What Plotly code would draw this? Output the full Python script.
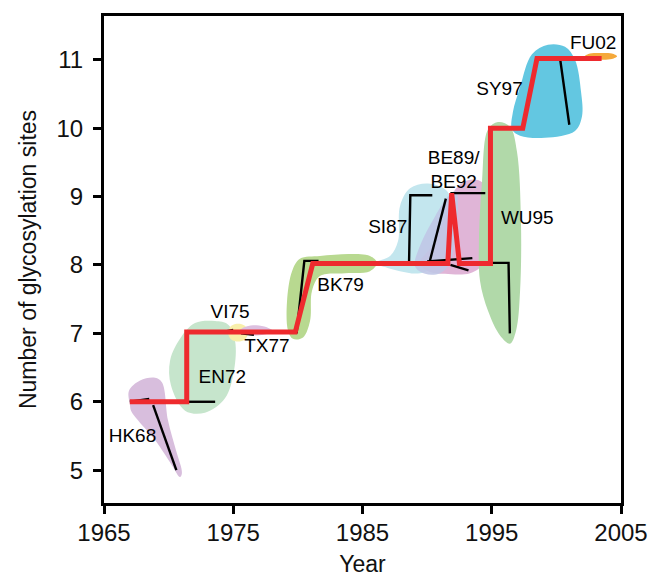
import plotly.graph_objects as go

# ---------------- data ----------------
# trunk (red step line): year, number of glycosylation sites
trunk_year = [1967.0, 1971.4, 1971.4, 1979.8, 1981.15, 1991.6, 1991.9, 1992.5, 1994.9, 1994.9, 1997.4, 1998.5, 2003.5]
trunk_sites = [6.0, 6.0, 7.02, 7.02, 8.02, 8.02, 9.05, 8.02, 8.02, 10.0, 10.0, 11.02, 11.02]

# side branches (black lines)
branch_names = ["HK68a", "HK68b", "EN72", "VI75", "TX77", "BK79", "SI87", "BE89", "BE92", "C8a", "C8b", "WU95", "SY97"]
branch_year = [
    [1967.0, 1968.5],
    [1968.8, 1970.6],
    [1971.4, 1973.6],
    [1974.4, 1975.0],
    [1975.6, 1976.6],
    [1979.9, 1980.5, 1981.6],
    [1988.6, 1988.7, 1990.4],
    [1990.2, 1991.45],
    [1991.8, 1994.5],
    [1990.0, 1993.5],
    [1991.8, 1993.2],
    [1994.9, 1996.3, 1996.4],
    [1999.0, 2000.3, 2001.0],
]
branch_sites = [
    [6.0, 6.04],
    [5.95, 5.0],
    [6.0, 6.0],
    [7.03, 7.05],
    [7.0, 6.98],
    [7.0, 8.06, 8.06],
    [8.02, 9.02, 9.02],
    [8.05, 8.97],
    [9.05, 9.05],
    [8.05, 8.1],
    [8.0, 7.92],
    [8.03, 8.03, 7.0],
    [11.0, 11.0, 10.05],
]

# cluster areas (outline points)
cluster_names = ["HK68", "EN72", "VI75", "TX77", "BK79", "SI87", "BE92", "BE89", "WU95", "SY97", "FU02"]
cluster_year = {
    "HK68": [1967.01, 1966.93, 1967.79, 1968.95, 1969.49, 1969.95, 1970.57, 1971.03, 1970.88, 1970.26, 1968.95, 1967.63, 1967.09],
    "EN72": [1970.88, 1972.04, 1973.59, 1974.59, 1975.14, 1975.06, 1974.36, 1972.81, 1971.27, 1970.18, 1970.11],
    "VI75": [1974.6, 1974.85, 1975.37, 1975.9, 1976.14, 1975.9, 1975.37, 1974.85],
    "TX77": [1975.5, 1976.0, 1976.8, 1977.6, 1978.1, 1977.6, 1976.8, 1976.0],
    "BK79": [1979.24, 1979.16, 1979.55, 1980.16, 1981.71, 1984.03, 1985.58, 1986.12, 1985.58, 1983.65, 1981.71, 1981.09, 1980.94, 1980.40, 1979.62],
    "SI87": [1985.97, 1987.13, 1987.75, 1987.90, 1988.68, 1990.07, 1991.54, 1991.92, 1991.62, 1991.00, 1989.45, 1987.90, 1986.74],
    "BE92": [1989.45, 1990.38, 1991.38, 1992.16, 1993.16, 1994.25, 1994.71, 1994.63, 1994.40, 1993.32, 1991.38, 1990.07],
    "BE89": [1989.06, 1989.45, 1990.61, 1991.62, 1992.23, 1992.39, 1992.16, 1991.77, 1991.00, 1989.84],
    "WU95": [1994.71, 1995.48, 1996.41, 1996.95, 1997.26, 1997.19, 1996.88, 1996.41, 1995.64, 1994.71, 1994.09, 1994.01, 1994.25],
    "SY97": [1996.57, 1996.64, 1997.19, 1998.11, 1999.35, 2000.67, 2001.44, 2001.91, 2001.98, 2001.44, 1999.12, 1997.19],
    "FU02": [2002.2, 2002.6, 2003.4, 2004.3, 2004.7, 2004.3, 2003.4, 2002.6],
}
cluster_sites = {
    "HK68": [5.95, 6.16, 6.31, 6.35, 6.28, 5.73, 5.29, 4.96, 4.90, 5.07, 5.44, 5.73, 5.87],
    "EN72": [6.92, 7.15, 7.18, 7.13, 6.89, 6.46, 6.05, 5.84, 5.87, 6.24, 6.60],
    "VI75": [7.01, 7.11, 7.14, 7.11, 7.01, 6.91, 6.88, 6.91],
    "TX77": [7.04, 7.10, 7.12, 7.09, 7.03, 6.99, 6.97, 6.98],
    "BK79": [7.04, 7.47, 7.91, 8.09, 8.13, 8.16, 8.13, 8.03, 7.91, 7.88, 7.84, 7.62, 7.18, 6.94, 6.92],
    "SI87": [8.03, 8.13, 8.35, 8.86, 9.12, 9.19, 9.08, 8.78, 8.35, 8.03, 7.88, 7.91, 7.97],
    "BE92": [8.03, 8.28, 8.71, 9.10, 9.24, 9.21, 8.93, 8.35, 8.03, 7.88, 7.87, 7.91],
    "BE89": [7.98, 8.28, 8.71, 9.00, 9.08, 8.86, 8.42, 8.03, 7.88, 7.87],
    "WU95": [9.98, 10.09, 10.02, 9.66, 8.64, 7.62, 7.04, 6.85, 6.97, 7.33, 7.77, 8.35, 9.22],
    "SY97": [9.98, 10.24, 10.60, 11.08, 11.22, 11.19, 11.00, 10.53, 10.17, 9.96, 9.86, 9.89],
    "FU02": [11.05, 11.09, 11.10, 11.09, 11.05, 11.01, 11.00, 11.01],
}
cluster_colors = {
    "HK68": "#d8bedd", "EN72": "#c6e5cc", "VI75": "#f8efab", "TX77": "#dcc0e0",
    "BK79": "#b8d990", "SI87": "#c3e6ee", "BE92": "#e0b5d7", "BE89": "#c0c6e6",
    "WU95": "#b1d9a9", "SY97": "#63c7e1", "FU02": "#f5a93b",
}

# cluster labels
label_text = ["HK68", "EN72", "VI75", "TX77", "BK79", "SI87", "BE89/<br>BE92", "WU95", "SY97", "FU02"]
label_year = [1967.2, 1974.15, 1974.75, 1977.6, 1983.3, 1986.95, 1992.05, 1997.75, 1995.6, 2002.85]
label_sites = [5.48, 6.34, 7.30, 6.79, 7.69, 8.54, 9.37, 8.67, 10.56, 11.22]

x_ticks = [1965, 1975, 1985, 1995, 2005]
y_ticks = [5, 6, 7, 8, 9, 10, 11]

# ---------------- figure ----------------
fig = go.Figure()

for name in cluster_names:
    xs = cluster_year[name] + cluster_year[name][:1]
    ys = cluster_sites[name] + cluster_sites[name][:1]
    fig.add_trace(go.Scatter(
        x=xs, y=ys, mode="lines", fill="toself",
        fillcolor=cluster_colors[name],
        line=dict(width=0, shape="spline", smoothing=1.0, color=cluster_colors[name]),
        opacity=0.9 if name == "BE89" else 1.0,
        hoverinfo="skip", showlegend=False,
    ))

bx, by = [], []
for xs, ys in zip(branch_year, branch_sites):
    bx += xs + [None]
    by += ys + [None]
fig.add_trace(go.Scatter(x=bx, y=by, mode="lines",
                         line=dict(color="black", width=2.4),
                         hoverinfo="skip", showlegend=False))

fig.add_trace(go.Scatter(x=trunk_year, y=trunk_sites, mode="lines",
                         line=dict(color="#ee2a2e", width=5),
                         hoverinfo="skip", showlegend=False))

fig.add_trace(go.Scatter(x=label_year, y=label_sites, mode="text", text=label_text,
                         textfont=dict(family="Liberation Sans", size=19, color="black"),
                         textposition="middle center",
                         hoverinfo="skip", showlegend=False))

axis_common = dict(
    showline=True, linecolor="black", linewidth=3, mirror=True,
    ticks="outside", ticklen=8, tickwidth=3, tickcolor="black",
    showgrid=False, zeroline=False,
    tickfont=dict(family="Liberation Sans", size=24, color="#111111"),
)

fig.update_layout(
    width=659, height=579,
    margin=dict(l=96, r=46, t=5, b=84),
    plot_bgcolor="white", paper_bgcolor="white",
    xaxis=dict(range=[1965, 2005], tickvals=x_ticks, ticklabelstandoff=-2,
               title=dict(text="Year", font=dict(family="Liberation Sans", size=23, color="#111111"), standoff=12),
               **axis_common),
    yaxis=dict(range=[4.52, 11.64], tickvals=y_ticks, ticklabelstandoff=5,
               title=dict(text="Number of glycosylation sites", font=dict(family="Liberation Sans", size=23, color="#111111"), standoff=14),
               **axis_common),
)

fig.write_html("out.html")
